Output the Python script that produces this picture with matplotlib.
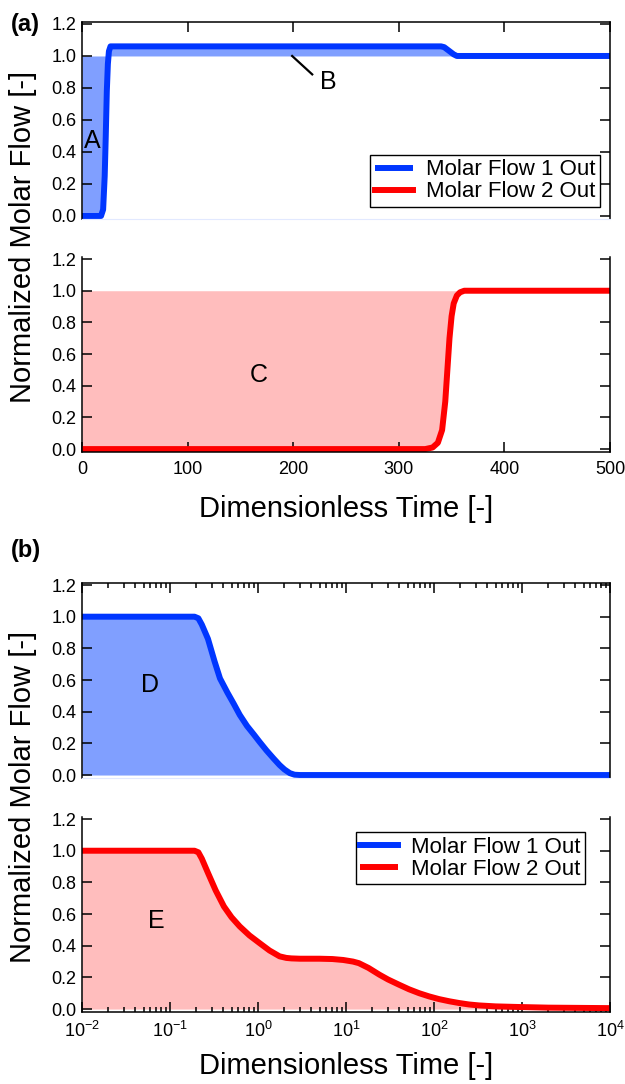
import numpy as np
import matplotlib
matplotlib.use("Agg")
import matplotlib.pyplot as plt
from matplotlib.ticker import FormatStrFormatter, MultipleLocator

plt.rcParams['font.family'] = ['Liberation Sans', 'DejaVu Sans']
plt.rcParams['mathtext.default'] = 'regular'

# --- data ---
# (a) linear time, step input
t_a1 = [0, 18, 20, 21.5, 22.5, 23.5, 24.5, 25.5, 27, 100, 200, 300, 340, 343, 346, 349, 352, 355, 400, 500]
flow1_a = [0, 0, 0.04, 0.25, 0.5, 0.78, 0.95, 1.03, 1.06, 1.06, 1.06, 1.06, 1.06, 1.055, 1.04, 1.025, 1.01, 1.0, 1.0, 1.0]

t_a2 = [0, 100, 200, 300, 325, 332, 337, 341, 344, 346, 348, 350, 352, 355, 358, 362, 368, 400, 500]
flow2_a = [0, 0, 0, 0, 0, 0.01, 0.04, 0.12, 0.3, 0.5, 0.7, 0.84, 0.92, 0.97, 0.99, 1.0, 1.0, 1.0, 1.0]

# (b) log time, pulse input
t_b1 = [0.01, 0.1, 0.19, 0.21, 0.23, 0.27, 0.32, 0.37, 0.45, 0.53, 0.62, 0.75, 0.9,
        1.04, 1.25, 1.5, 1.76, 2.0, 2.3, 2.6, 3.0, 10, 100, 1e3, 1e4]
flow1_b = [1, 1, 1, 0.99, 0.95, 0.86, 0.72, 0.61, 0.52, 0.45, 0.38, 0.31, 0.255,
           0.21, 0.155, 0.105, 0.063, 0.035, 0.012, 0.002, 0, 0, 0, 0, 0]

t_b2 = [0.01, 0.1, 0.19, 0.21, 0.23, 0.27, 0.33, 0.41, 0.5, 0.62, 0.8, 1.04, 1.35, 1.76,
        2.1, 2.4, 3, 5, 7, 9.3, 12, 14, 18, 24, 30, 40, 52, 68, 88, 114, 150, 194,
        250, 325, 500, 925, 2000, 1e4]
flow2_b = [1, 1, 1, 0.99, 0.95, 0.86, 0.75, 0.648, 0.58, 0.522, 0.465, 0.417, 0.37, 0.333,
           0.323, 0.32, 0.318, 0.318, 0.316, 0.31, 0.30, 0.29, 0.26, 0.217, 0.187, 0.154,
           0.125, 0.10, 0.08, 0.063, 0.049, 0.038, 0.029, 0.023, 0.017, 0.013, 0.009, 0.006]

labels = ["Molar Flow 1 Out", "Molar Flow 2 Out"]
yticks = [0.0, 0.2, 0.4, 0.6, 0.8, 1.0, 1.2]
decades = [1e-2, 1e-1, 1e0, 1e1, 1e2, 1e3, 1e4]

blue = '#0036ff'
red = '#ff0000'
blue_fill = '#809fff'
red_fill = '#ffbdbd'
lw = 4.3

fig = plt.figure(figsize=(6.25, 10.84), dpi=100)
L, W = 0.1312, 0.8448
ax_a1 = fig.add_axes([L, 0.7978, W, 0.1823])
ax_a2 = fig.add_axes([L, 0.5828, W, 0.1804])
ax_b1 = fig.add_axes([L, 0.2821, W, 0.1804])
ax_b2 = fig.add_axes([L, 0.0662, W, 0.1804])


def style(ax, top):
    ax.set_ylim(-0.02, 1.215)
    ax.set_yticks(yticks)
    ax.yaxis.set_major_formatter(FormatStrFormatter('%.1f'))
    ax.tick_params(axis='y', which='both', direction='in', left=True, right=True,
                   length=7, width=1.1, labelsize=13, pad=4)
    for s in ax.spines.values():
        s.set_linewidth(1.1)
    if top:
        ax.spines['bottom'].set_color('#e2e9ff')
        ax.spines['bottom'].set_linewidth(0.8)
        ax.tick_params(axis='x', which='both', direction='in', top=True, bottom=False,
                       labelbottom=False, length=7, width=1.1)
        ax.tick_params(axis='x', which='minor', length=3.5)
    else:
        ax.spines['top'].set_visible(False)
        ax.tick_params(axis='x', which='both', direction='in', top=False, bottom=True,
                       length=7, width=1.1, labelsize=13, pad=6)
        ax.tick_params(axis='x', which='minor', length=3.5)


leg_kw = dict(fontsize=16, frameon=True, fancybox=False, edgecolor='black', framealpha=1,
              handlelength=1.7, handletextpad=0.6, borderpad=0.2, labelspacing=0.05,
              borderaxespad=0)

# (a) top
ax_a1.fill_between(t_a1, flow1_a, 1.0, color=blue_fill, lw=0)
ax_a1.plot(t_a1, flow1_a, color=blue, lw=lw, solid_capstyle='butt', label=labels[0])
ax_a1.plot([], [], color=red, lw=lw, label=labels[1])
ax_a1.set_xlim(0, 500)
ax_a1.xaxis.set_major_locator(MultipleLocator(100))
style(ax_a1, True)
ax_a1.text(10, 0.47, "A", fontsize=18, ha='center', va='center')
ax_a1.plot([199, 218], [1.0, 0.885], color='black', lw=1.6)
ax_a1.text(233, 0.84, "B", fontsize=18, ha='center', va='center')
ax_a1.legend(loc='lower right', bbox_to_anchor=(0.981, 0.062), **leg_kw)

# (a) bottom
ax_a2.fill_between(t_a2, flow2_a, 1.0, color=red_fill, lw=0)
ax_a2.plot(t_a2, flow2_a, color=red, lw=lw, solid_capstyle='butt')
ax_a2.set_xlim(0, 500)
ax_a2.xaxis.set_major_locator(MultipleLocator(100))
style(ax_a2, False)
ax_a2.text(167, 0.47, "C", fontsize=18, ha='center', va='center')

# (b) top
ax_b1.set_xscale('log')
ax_b1.fill_between(t_b1, flow1_b, 0, color=blue_fill, lw=0)
ax_b1.plot(t_b1, flow1_b, color=blue, lw=lw, solid_capstyle='butt')
ax_b1.set_xticks(decades)
ax_b1.set_xlim(1e-2, 1e4)
style(ax_b1, True)
ax_b1.text(0.059, 0.57, "D", fontsize=18, ha='center', va='center')

# (b) bottom
ax_b2.set_xscale('log')
ax_b2.fill_between(t_b2, flow2_b, 0, color=red_fill, lw=0)
ax_b2.plot([], [], color=blue, lw=lw, label=labels[0])
ax_b2.plot(t_b2, flow2_b, color=red, lw=lw, solid_capstyle='butt', label=labels[1])
ax_b2.set_xticks(decades)
ax_b2.set_xlim(1e-2, 1e4)
style(ax_b2, False)
ax_b2.text(0.069, 0.555, "E", fontsize=18, ha='center', va='center')
ax_b2.legend(loc='upper right', bbox_to_anchor=(0.953, 0.921), **leg_kw)

# axis titles
fig.text(0.037, 1 - 237 / 1084, "Normalized Molar Flow [-]", rotation=90,
         fontsize=21, ha='center', va='center')
fig.text(0.037, 1 - 797 / 1084, "Normalized Molar Flow [-]", rotation=90,
         fontsize=21, ha='center', va='center')
fig.text(L + W / 2, 1 - 509 / 1084, "Dimensionless Time [-]", fontsize=21,
         ha='center', va='center')
fig.text(L + W / 2, 1 - 1066 / 1084, "Dimensionless Time [-]", fontsize=21,
         ha='center', va='center')
fig.text(0.018, 1 - 25 / 1084, "(a)", fontsize=17, fontweight='bold', ha='left', va='center')
fig.text(0.018, 1 - 550 / 1084, "(b)", fontsize=17, fontweight='bold', ha='left', va='center')

fig.savefig("out.png", dpi=100)
